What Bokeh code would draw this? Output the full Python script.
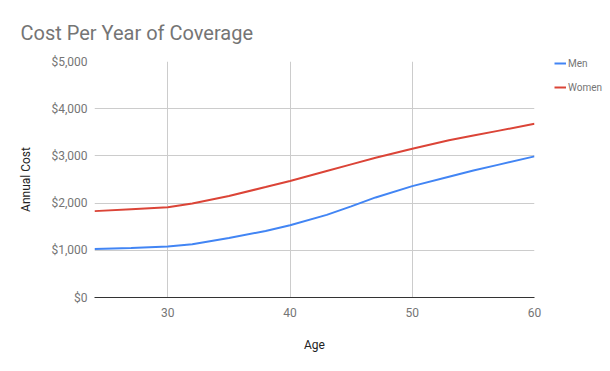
from bokeh.plotting import figure
from bokeh.models import (ColumnDataSource, FixedTicker, NumeralTickFormatter, Legend, LegendItem, Range1d)
from bokeh.embed import file_html
from bokeh.resources import INLINE

ages = [24, 27, 30, 32, 35, 38, 40, 43, 45, 47, 50, 53, 55, 57, 60]
men = [1030, 1050, 1080, 1130, 1260, 1410, 1530, 1750, 1930, 2120, 2360, 2560, 2690, 2810, 2990]
women = [1830, 1870, 1910, 1990, 2150, 2340, 2470, 2680, 2820, 2960, 3150, 3330, 3430, 3530, 3680]
x_ticks = [30, 40, 50, 60]
y_ticks = [0, 1000, 2000, 3000, 4000, 5000]

FONT = "Roboto"
GREY = "#757575"

p = figure(output_backend="svg", toolbar_location=None,
           frame_width=440, frame_height=236,
           min_border_left=94, min_border_right=72, min_border_top=61, min_border_bottom=64,
           x_range=Range1d(24, 60), y_range=Range1d(0, 5000))

p.title.text = "Cost Per Year of Coverage"
p.title.text_font = FONT
p.title.text_font_size = "20px"
p.title.text_color = GREY
p.title.text_font_style = "normal"
p.title.offset = -74
p.title.standoff = 33

p.outline_line_color = None
p.background_fill_color = "white"
p.border_fill_color = "white"

# grids
p.xgrid.ticker = FixedTicker(ticks=x_ticks)
p.ygrid.ticker = FixedTicker(ticks=y_ticks)
p.grid.grid_line_color = "#cccccc"
p.grid.grid_line_width = 1

# axes
p.xaxis.ticker = FixedTicker(ticks=x_ticks)
p.yaxis.ticker = FixedTicker(ticks=y_ticks)
p.yaxis.formatter = NumeralTickFormatter(format="$0,0")
for ax in (p.xaxis[0], p.yaxis[0]):
    ax.major_tick_line_color = None
    ax.minor_tick_line_color = None
    ax.major_tick_out = 0
    ax.major_tick_in = 0
    ax.minor_tick_out = 0
    ax.minor_tick_in = 0
    ax.major_label_text_font = FONT
    ax.major_label_text_font_size = "12px"
    ax.major_label_text_color = GREY
    ax.axis_label_text_font = FONT
    ax.axis_label_text_font_size = "12px"
    ax.axis_label_text_color = "#222222"
    ax.axis_label_text_font_style = "normal"
p.yaxis.axis_line_color = None
p.xaxis.axis_line_color = "#333333"
p.xaxis.axis_line_width = 1
p.yaxis.major_label_standoff = 7
p.xaxis.major_label_standoff = 10
p.yaxis.axis_label_standoff = 15
p.xaxis.axis_label_standoff = 18
p.yaxis.axis_label = "Annual Cost"
p.xaxis.axis_label = "Age"

src = ColumnDataSource(dict(age=ages, men=men, women=women))
r_men = p.line("age", "men", source=src, line_color="#4285f4", line_width=2)
r_women = p.line("age", "women", source=src, line_color="#db4437", line_width=2)

legend = Legend(items=[LegendItem(label="Men", renderers=[r_men]),
                       LegendItem(label="Women", renderers=[r_women])],
                location=(20, 200), orientation="vertical")
legend.border_line_color = None
legend.background_fill_alpha = 0
legend.label_text_font = FONT
legend.label_text_font_size = "10px"
legend.label_text_color = GREY
legend.glyph_width = 12
legend.glyph_height = 4
legend.label_standoff = 2
legend.spacing = 4
legend.padding = 0
legend.margin = 0
legend.label_height = 20
p.add_layout(legend, "right")

open("out.html", "w").write(file_html(p, INLINE))
